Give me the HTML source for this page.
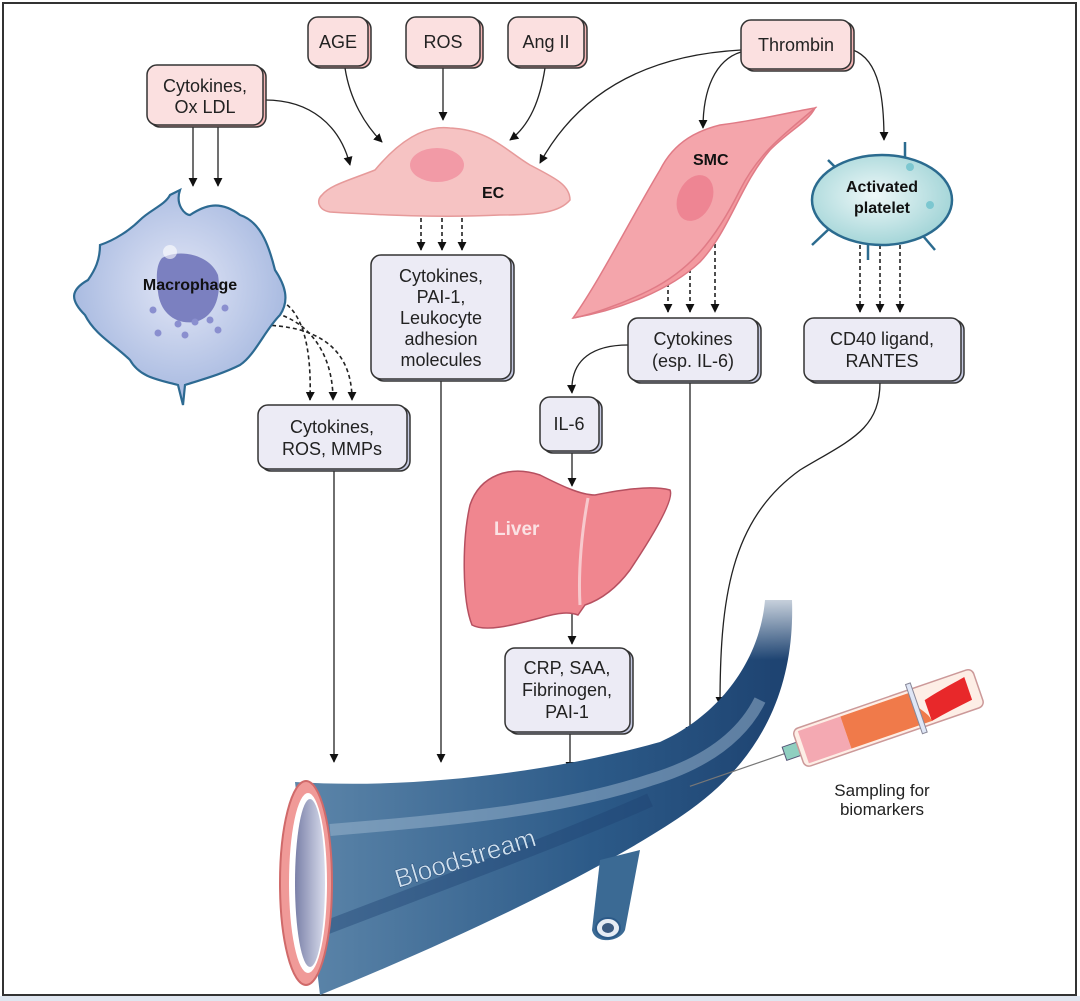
<!DOCTYPE html>
<html><head><meta charset="utf-8"><style>
html,body{margin:0;padding:0;background:#fff;}
svg{display:block;}
text{font-family:"Liberation Sans",sans-serif;}
</style></head><body>
<svg width="1080" height="1001" viewBox="0 0 1080 1001" xmlns="http://www.w3.org/2000/svg">
<defs>
<marker id="a" markerWidth="8" markerHeight="8" refX="4" refY="7" orient="auto" markerUnits="userSpaceOnUse"><path d="M0,0 L8,0 L4,8 z" fill="#111" transform="rotate(-90 4 4) translate(0,0)"/></marker>
<marker id="ah" viewBox="0 0 10 10" refX="9" refY="5" markerWidth="9" markerHeight="9" orient="auto" markerUnits="userSpaceOnUse"><path d="M0,0 L10,5 L0,10 z" fill="#111"/></marker>
<linearGradient id="vess" x1="0" y1="0" x2="1" y2="0">
<stop offset="0" stop-color="#5d86aa"/><stop offset="0.6" stop-color="#2c5a88"/><stop offset="1" stop-color="#1d4270"/></linearGradient>
<linearGradient id="vtop" x1="0" y1="1" x2="0" y2="0">
<stop offset="0" stop-color="#fff" stop-opacity="0"/><stop offset="1" stop-color="#fff" stop-opacity="1"/></linearGradient>
<radialGradient id="mac" cx="0.5" cy="0.45" r="0.6"><stop offset="0" stop-color="#e2e6f6"/><stop offset="1" stop-color="#9fb3dd"/></radialGradient>
<radialGradient id="plt" cx="0.45" cy="0.45" r="0.6"><stop offset="0" stop-color="#eef8f8"/><stop offset="1" stop-color="#9fd3d6"/></radialGradient>
<linearGradient id="lum" x1="0" y1="0" x2="1" y2="0"><stop offset="0" stop-color="#7a80a8"/><stop offset="1" stop-color="#d8dcec"/></linearGradient>
</defs>
<rect x="3" y="3" width="1073" height="992" fill="#fff" stroke="#333" stroke-width="2"/>
<rect x="0" y="996" width="1080" height="5" fill="#dfe6f0"/>

<!-- connectors -->
<g fill="none" stroke="#222" stroke-width="1.3" marker-end="url(#ah)">
<path d="M193,127 V186"/><path d="M218,127 V186"/>
<path d="M265,100 C310,100 340,125 350,165"/>
<path d="M345,68 C350,100 365,125 382,142"/>
<path d="M443,68 V120"/>
<path d="M545,68 C540,100 530,125 510,140"/>
<path d="M741,50 C650,55 580,90 540,163"/>
<path d="M741,52 C715,60 703,90 703,128"/>
<path d="M853,50 C880,60 884,100 884,140"/>
<path d="M628,345 C595,345 570,358 572,393"/>
<path d="M572,452 V486"/>
<path d="M572,600 V644"/>
<path d="M334,470 V762"/>
<path d="M441,380 V762"/>
<path d="M570,733 V770"/>
<path d="M690,382 V735"/>
<path d="M880,382 C880,430 850,440 800,470 C730,520 720,600 720,705"/>
</g>
<g fill="none" stroke="#222" stroke-width="1.6" stroke-dasharray="4,3" marker-end="url(#ah)">
<path d="M421,218 V250"/><path d="M442,218 V250"/><path d="M462,218 V250"/>
<path d="M668,262 V312"/><path d="M690,262 V312"/><path d="M715,230 V312"/>
<path d="M860,245 V312"/><path d="M880,245 V312"/><path d="M900,245 V312"/>
<path d="M268,297 C300,300 312,340 310,400"/>
<path d="M256,310 C300,312 333,345 333,400"/>
<path d="M258,325 C320,325 352,350 352,400"/>
</g>

<!-- EC cell -->
<path d="M322,195 C330,185 350,180 375,170 C400,140 425,125 450,128 C490,130 505,150 530,165 C555,178 570,185 570,200 C560,212 540,215 500,215 C440,218 380,215 330,212 C318,210 316,200 322,195 Z" fill="#f6c3c3" stroke="#e69a9a" stroke-width="1.5"/>
<ellipse cx="437" cy="165" rx="27" ry="17" fill="#f29aa6"/>
<text x="482" y="198" font-size="16" font-weight="bold" fill="#111">EC</text>

<!-- SMC -->
<path d="M573,318 C600,300 640,270 670,240 C700,205 730,160 770,135 C790,122 808,112 815,108 C808,122 790,130 770,150 C740,185 730,230 700,262 C670,290 620,310 573,318 Z" fill="#f3999f" stroke="#e07b86" stroke-width="1.5"/>
<path d="M573,318 C600,280 630,220 660,170 C675,140 700,130 720,125 C760,120 790,112 815,108 C790,130 760,150 740,190 C715,240 690,270 650,290 C620,305 590,315 573,318 Z" fill="#f4a5ab" stroke="#e07b86" stroke-width="1.5"/>
<ellipse cx="695" cy="198" rx="17" ry="24" transform="rotate(25 695 198)" fill="#ee8593"/>
<text x="693" y="165" font-size="16" font-weight="bold" fill="#111">SMC</text>

<!-- platelet -->
<g stroke="#2b6b8f" stroke-width="2.5" fill="#a8d8da">
<path d="M828,160 L838,170"/><path d="M905,142 L905,160"/><path d="M812,245 L830,228"/><path d="M935,250 L918,230"/><path d="M868,260 L868,240"/>
</g>
<ellipse cx="882" cy="200" rx="70" ry="45" fill="url(#plt)" stroke="#2b6b8f" stroke-width="2.5"/>
<circle cx="910" cy="167" r="4" fill="#7cc7d0"/><circle cx="930" cy="205" r="4" fill="#7cc7d0"/>
<text x="882" y="192" font-size="16" font-weight="bold" text-anchor="middle" fill="#111">Activated</text>
<text x="882" y="213" font-size="16" font-weight="bold" text-anchor="middle" fill="#111">platelet</text>

<!-- macrophage -->
<path d="M180,190 C175,205 185,215 190,215 C205,205 220,200 240,215 C262,222 270,250 275,270 C285,285 290,300 280,315 C265,330 255,355 240,365 C220,375 200,380 185,385 L183,405 L178,385 C160,380 140,378 130,360 C115,345 95,335 85,315 C70,300 70,290 88,280 C95,270 100,260 100,245 C115,240 130,230 140,220 C150,210 165,205 170,195 Z" fill="url(#mac)" stroke="#2d6a92" stroke-width="2.2"/>
<path d="M162,258 C180,248 210,255 218,275 C222,300 212,318 195,322 C175,325 160,312 158,292 C156,278 156,265 162,258 Z" fill="#7b80c0"/>
<circle cx="170" cy="252" r="7" fill="#fff" opacity="0.6"/>
<g fill="#8a8fcf"><circle cx="153" cy="310" r="3.5"/><circle cx="178" cy="324" r="3.5"/><circle cx="195" cy="322" r="3.5"/><circle cx="210" cy="320" r="3.5"/><circle cx="225" cy="308" r="3.5"/><circle cx="158" cy="333" r="3.5"/><circle cx="185" cy="335" r="3.5"/><circle cx="218" cy="330" r="3.5"/></g>
<text x="190" y="290" font-size="16" font-weight="bold" text-anchor="middle" fill="#111">Macrophage</text>

<!-- liver -->
<path d="M470,505 C480,475 510,465 540,475 C560,485 580,495 595,495 C620,490 650,485 670,490 C675,500 650,540 630,570 C615,590 600,600 585,605 L578,615 C570,612 560,612 540,618 C510,626 485,632 472,625 C462,600 462,540 470,505 Z" fill="#f0868f" stroke="#b65060" stroke-width="1.5"/>
<path d="M588,498 C582,530 578,570 580,605" stroke="#f7c9cd" stroke-width="3" fill="none"/>
<text x="494" y="535" font-size="19" font-weight="bold" fill="#fbe2e4">Liver</text>

<!-- vessel -->
<path d="M295,782 C420,790 560,770 660,742 C720,715 760,660 765,600 L792,600 C795,690 760,760 690,810 C620,860 480,930 320,995 Z" fill="url(#vess)"/>
<path d="M330,830 C450,820 560,810 650,780 C700,765 740,740 760,700" stroke="#9db8d0" stroke-width="12" fill="none" opacity="0.5"/>
<path d="M320,930 C450,880 560,840 650,800" stroke="#1d4270" stroke-width="14" fill="none" opacity="0.4"/>
<rect x="740" y="580" width="70" height="80" fill="url(#vtop)"/>
<path d="M600,860 L592,930 C595,945 620,942 625,930 L640,850 Z" fill="#3b6a94"/>
<ellipse cx="608" cy="928" rx="12" ry="10" fill="#e6ecf4" stroke="#2c5a88" stroke-width="2"/>
<ellipse cx="608" cy="928" rx="6" ry="5" fill="#3b5a80"/>
<ellipse cx="306" cy="883" rx="26" ry="102" fill="#f09a98" stroke="#d06a6a" stroke-width="2"/>
<ellipse cx="308" cy="883" rx="19" ry="90" fill="#fff"/>
<ellipse cx="310" cy="883" rx="15" ry="84" fill="url(#lum)"/>
<text x="0" y="0" font-size="26" fill="#cfe0ee" transform="translate(398,888) rotate(-17)" stroke="#1d4270" stroke-width="0.4">Bloodstream</text>

<!-- syringe -->
<g transform="translate(775,757) rotate(-19)">
<line x1="-90" y1="0" x2="10" y2="0" stroke="#777" stroke-width="1.2"/>
<rect x="10" y="-7" width="15" height="14" fill="#8fcfc0" stroke="#557"/>
<rect x="25" y="-20" width="190" height="40" rx="6" fill="#fdeee6" stroke="#c99" stroke-width="1.5"/>
<rect x="30" y="-17" width="45" height="34" fill="#f4a9b2"/>
<path d="M75,-17 L150,-17 C145,0 160,5 160,17 L75,17 Z" fill="#f07a4a"/>
<path d="M160,-5 C180,-10 195,-12 205,-14 L205,10 C190,12 175,14 160,17 Z" fill="#e8282a"/>
<rect x="147" y="-26" width="5" height="52" fill="#dfe6f6" stroke="#889"/>
</g>
<text x="882" y="796" font-size="17" text-anchor="middle" fill="#222">Sampling for</text>
<text x="882" y="815" font-size="17" text-anchor="middle" fill="#222">biomarkers</text>

<!-- boxes -->
<g stroke="#333" stroke-width="1.5">
<rect x="311" y="19" width="60" height="49" rx="10" fill="#f3b5b5"/><rect x="308" y="17" width="60" height="49" rx="10" fill="#fbe0e0"/>
<rect x="409" y="19" width="74" height="49" rx="10" fill="#f3b5b5"/><rect x="406" y="17" width="74" height="49" rx="10" fill="#fbe0e0"/>
<rect x="511" y="19" width="76" height="49" rx="10" fill="#f3b5b5"/><rect x="508" y="17" width="76" height="49" rx="10" fill="#fbe0e0"/>
<rect x="744" y="22" width="110" height="49" rx="10" fill="#f3b5b5"/><rect x="741" y="20" width="110" height="49" rx="10" fill="#fbe0e0"/>
<rect x="150" y="67" width="116" height="60" rx="10" fill="#f3b5b5"/><rect x="147" y="65" width="116" height="60" rx="10" fill="#fbe0e0"/>
<rect x="374" y="257" width="140" height="124" rx="10" fill="#c4c8e0"/><rect x="371" y="255" width="140" height="124" rx="10" fill="#ecebf5"/>
<rect x="261" y="407" width="149" height="64" rx="10" fill="#c4c8e0"/><rect x="258" y="405" width="149" height="64" rx="10" fill="#ecebf5"/>
<rect x="631" y="320" width="130" height="63" rx="10" fill="#c4c8e0"/><rect x="628" y="318" width="130" height="63" rx="10" fill="#ecebf5"/>
<rect x="807" y="320" width="157" height="63" rx="10" fill="#c4c8e0"/><rect x="804" y="318" width="157" height="63" rx="10" fill="#ecebf5"/>
<rect x="543" y="399" width="59" height="54" rx="10" fill="#c4c8e0"/><rect x="540" y="397" width="59" height="54" rx="10" fill="#ecebf5"/>
<rect x="508" y="650" width="125" height="84" rx="10" fill="#c4c8e0"/><rect x="505" y="648" width="125" height="84" rx="10" fill="#ecebf5"/>
</g>
<g font-size="18" fill="#222" text-anchor="middle">
<text x="338" y="48">AGE</text>
<text x="443" y="48">ROS</text>
<text x="546" y="48">Ang II</text>
<text x="796" y="51">Thrombin</text>
<text x="205" y="92">Cytokines,</text><text x="205" y="113">Ox LDL</text>
<text x="441" y="282">Cytokines,</text><text x="441" y="303">PAI-1,</text><text x="441" y="324">Leukocyte</text><text x="441" y="345">adhesion</text><text x="441" y="366">molecules</text>
<text x="332" y="433">Cytokines,</text><text x="332" y="455">ROS, MMPs</text>
<text x="693" y="345">Cytokines</text><text x="693" y="367">(esp. IL-6)</text>
<text x="882" y="345">CD40 ligand,</text><text x="882" y="367">RANTES</text>
<text x="569" y="430">IL-6</text>
<text x="567" y="674">CRP, SAA,</text><text x="567" y="696">Fibrinogen,</text><text x="567" y="718">PAI-1</text>
</g>
</svg>
</body></html>
